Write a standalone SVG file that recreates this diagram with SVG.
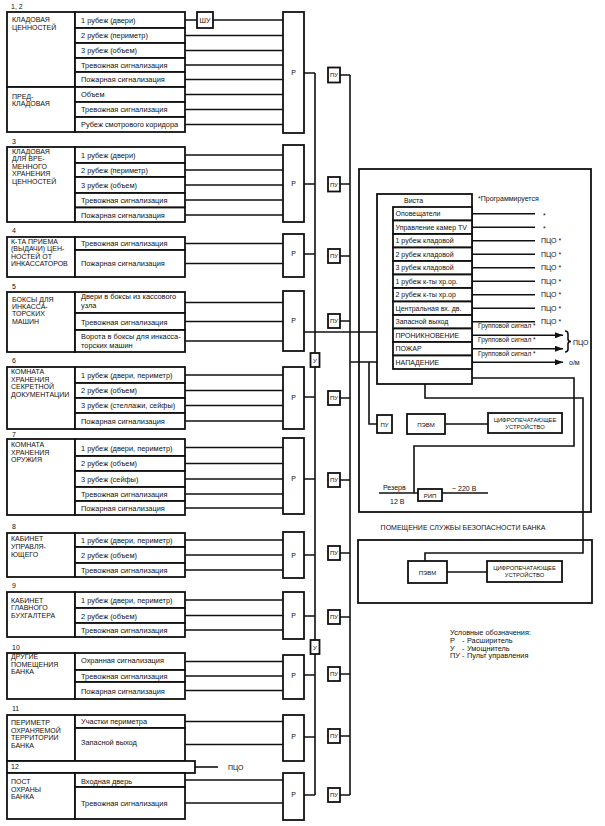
<svg xmlns="http://www.w3.org/2000/svg" width="605" height="826" viewBox="0 0 605 826">
<defs>
<marker id="ah" viewBox="0 0 8 6" refX="8" refY="3" markerWidth="8" markerHeight="6" markerUnits="userSpaceOnUse" orient="auto"><path d="M0,0 L8,3 L0,6 Z" fill="#111"/></marker>
</defs>
<style>
.b{fill:#fff;stroke:#111;stroke-width:1.8}
.l{fill:none;stroke:#111;stroke-width:1.6}
text{font-family:"Liberation Sans",Arial,sans-serif;fill:#111}
.r{font-size:7.4px}
.n{font-size:7px}
.v{font-size:7px}
.c{text-anchor:middle}
.s{font-size:6px}
.g{font-size:6.5px}
.x{font-size:5.8px}
</style>
<rect width="605" height="826" fill="#fff"/>

<g id="sec-1-2">
<text class="n" x="11" y="8.5">1, 2</text>
<rect class="b" x="7" y="12" width="68" height="75"/>
<rect class="b" x="7" y="87" width="68" height="45"/>
<rect class="b" x="75" y="12" width="110" height="16"/>
<rect class="b" x="75" y="28" width="110" height="15"/>
<rect class="b" x="75" y="43" width="110" height="15"/>
<rect class="b" x="75" y="58" width="110" height="14"/>
<rect class="b" x="75" y="72" width="110" height="15"/>
<rect class="b" x="75" y="87" width="110" height="15"/>
<rect class="b" x="75" y="102" width="110" height="15"/>
<rect class="b" x="75" y="117" width="110" height="15"/>
<text class="n" x="12" y="22">КЛАДОВАЯ</text>
<text class="n" x="12" y="29.5">ЦЕННОСТЕЙ</text>
<text class="n" x="12" y="98.5">ПРЕД-</text>
<text class="n" x="12" y="105.5">КЛАДОВАЯ</text>
<text class="r" x="81" y="22.6">1 рубеж (двери)</text>
<text class="r" x="81" y="38">2 рубеж (периметр)</text>
<text class="r" x="81" y="53">3 рубеж (объем)</text>
<text class="r" x="81" y="67.5">Тревожная сигнализация</text>
<text class="r" x="81" y="82">Пожарная сигнализация</text>
<text class="r" x="81" y="97">Объем</text>
<text class="r" x="81" y="112">Тревожная сигнализация</text>
<text class="r" x="81" y="127">Рубеж смотрового коридора</text>
</g>

<g id="sec-3">
<text class="n" x="12" y="143.5">3</text>
<rect class="b" x="7" y="147" width="68" height="75"/>
<rect class="b" x="75" y="147" width="110" height="16"/>
<rect class="b" x="75" y="163" width="110" height="14"/>
<rect class="b" x="75" y="177" width="110" height="16"/>
<rect class="b" x="75" y="193" width="110" height="14.5"/>
<rect class="b" x="75" y="207.5" width="110" height="14.5"/>
<text class="n" x="12" y="153.5">КЛАДОВАЯ</text>
<text class="n" x="12" y="161">ДЛЯ ВРЕ-</text>
<text class="n" x="12" y="168.5">МЕННОГО</text>
<text class="n" x="12" y="176">ХРАНЕНИЯ</text>
<text class="n" x="12" y="183.5">ЦЕННОСТЕЙ</text>
<text class="r" x="81" y="157.5">1 рубеж (двери)</text>
<text class="r" x="81" y="172.5">2 рубеж (периметр)</text>
<text class="r" x="81" y="187.5">3 рубеж (объем)</text>
<text class="r" x="81" y="202.5">Тревожная сигнализация</text>
<text class="r" x="81" y="217.5">Пожарная сигнализация</text>
</g>

<g id="sec-4">
<text class="n" x="12" y="232.5">4</text>
<rect class="b" x="7" y="237" width="68" height="40"/>
<rect class="b" x="75" y="237" width="110" height="13"/>
<rect class="b" x="75" y="250" width="110" height="27"/>
<text class="n" x="11" y="243.5">К-ТА ПРИЕМА</text>
<text class="n" x="11" y="251">(ВЫДАЧИ) ЦЕН-</text>
<text class="n" x="11" y="258.5">НОСТЕЙ ОТ</text>
<text class="n" x="11" y="266">ИНКАССАТОРОВ</text>
<text class="r" x="81" y="246">Тревожная сигнализация</text>
<text class="r" x="81" y="266">Пожарная сигнализация</text>
</g>

<g id="sec-5">
<text class="n" x="12" y="288.5">5</text>
<rect class="b" x="7" y="292" width="68" height="60"/>
<rect class="b" x="75" y="292" width="110" height="21"/>
<rect class="b" x="75" y="313" width="110" height="17"/>
<rect class="b" x="75" y="330" width="110" height="22"/>
<text class="n" x="12" y="302">БОКСЫ ДЛЯ</text>
<text class="n" x="12" y="309">ИНКАССА-</text>
<text class="n" x="12" y="316">ТОРСКИХ</text>
<text class="n" x="12" y="323.5">МАШИН</text>
<text class="r" x="81" y="299">Двери в боксы из кассового</text>
<text class="r" x="81" y="307.5">узла</text>
<text class="r" x="81" y="324.5">Тревожная сигнализация</text>
<text class="r" x="81" y="338.5">Ворота в боксы для инкасса-</text>
<text class="r" x="81" y="347.5">торских машин</text>
</g>

<g id="sec-6">
<text class="n" x="12" y="362.5">6</text>
<rect class="b" x="7" y="367" width="68" height="62"/>
<rect class="b" x="75" y="367" width="110" height="16"/>
<rect class="b" x="75" y="383" width="110" height="15"/>
<rect class="b" x="75" y="398" width="110" height="15"/>
<rect class="b" x="75" y="413" width="110" height="16"/>
<text class="n" x="11" y="374">КОМНАТА</text>
<text class="n" x="11" y="381.5">ХРАНЕНИЯ</text>
<text class="n" x="11" y="389">СЕКРЕТНОЙ</text>
<text class="n" x="11" y="396.5">ДОКУМЕНТАЦИИ</text>
<text class="r" x="81" y="377.5">1 рубеж (двери, периметр)</text>
<text class="r" x="81" y="393">2 рубеж (объем)</text>
<text class="r" x="81" y="408">3 рубеж (стеллажи, сейфы)</text>
<text class="r" x="81" y="423.5">Пожарная сигнализация</text>
</g>

<g id="sec-7">
<text class="n" x="12" y="437">7</text>
<rect class="b" x="7" y="439" width="68" height="76"/>
<rect class="b" x="75" y="439" width="110" height="17"/>
<rect class="b" x="75" y="456" width="110" height="15"/>
<rect class="b" x="75" y="471" width="110" height="16"/>
<rect class="b" x="75" y="487" width="110" height="14"/>
<rect class="b" x="75" y="501" width="110" height="14"/>
<text class="n" x="11" y="447">КОМНАТА</text>
<text class="n" x="11" y="454.5">ХРАНЕНИЯ</text>
<text class="n" x="11" y="461.5">ОРУЖИЯ</text>
<text class="r" x="81" y="450.5">1 рубеж (двери, периметр)</text>
<text class="r" x="81" y="466">2 рубеж (объем)</text>
<text class="r" x="81" y="481.5">3 рубеж (сейфы)</text>
<text class="r" x="81" y="496.5">Тревожная сигнализация</text>
<text class="r" x="81" y="510.5">Пожарная сигнализация</text>
</g>

<g id="sec-8">
<text class="n" x="12" y="529">8</text>
<rect class="b" x="7" y="533" width="68" height="44"/>
<rect class="b" x="75" y="533" width="110" height="14"/>
<rect class="b" x="75" y="547" width="110" height="16"/>
<rect class="b" x="75" y="563" width="110" height="14"/>
<text class="n" x="11" y="541">КАБИНЕТ</text>
<text class="n" x="11" y="549">УПРАВЛЯ-</text>
<text class="n" x="11" y="556.5">ЮЩЕГО</text>
<text class="r" x="81" y="542.5">1 рубеж (двери, периметр)</text>
<text class="r" x="81" y="557.5">2 рубеж (объем)</text>
<text class="r" x="81" y="572.5">Тревожная сигнализация</text>
</g>

<g id="sec-9">
<text class="n" x="12" y="587.5">9</text>
<rect class="b" x="7" y="592" width="68" height="45"/>
<rect class="b" x="75" y="592" width="110" height="16"/>
<rect class="b" x="75" y="608" width="110" height="15"/>
<rect class="b" x="75" y="623" width="110" height="14"/>
<text class="n" x="11" y="602.5">КАБИНЕТ</text>
<text class="n" x="11" y="610">ГЛАВНОГО</text>
<text class="n" x="11" y="617.5">БУХГАЛТЕРА</text>
<text class="r" x="81" y="603">1 рубеж (двери, периметр)</text>
<text class="r" x="81" y="618.5">2 рубеж (объем)</text>
<text class="r" x="81" y="632.5">Тревожная сигнализация</text>
</g>

<g id="sec-10">
<text class="n" x="12" y="650">10</text>
<rect class="b" x="7" y="653" width="68" height="46"/>
<rect class="b" x="75" y="653" width="110" height="17"/>
<rect class="b" x="75" y="670" width="110" height="12"/>
<rect class="b" x="75" y="682" width="110" height="17"/>
<text class="n" x="11" y="659">ДРУГИЕ</text>
<text class="n" x="11" y="666.5">ПОМЕЩЕНИЯ</text>
<text class="n" x="11" y="674">БАНКА</text>
<text class="r" x="81" y="662.5">Охранная сигнализация</text>
<text class="r" x="81" y="678.5">Тревожная сигнализация</text>
<text class="r" x="81" y="693.5">Пожарная сигнализация</text>
</g>

<g id="sec-11">
<text class="n" x="12" y="711">11</text>
<rect class="b" x="7" y="715" width="68" height="46"/>
<rect class="b" x="75" y="715" width="110" height="13"/>
<rect class="b" x="75" y="728" width="110" height="33"/>
<text class="n" x="11" y="725">ПЕРИМЕТР</text>
<text class="n" x="11" y="732.5">ОХРАНЯЕМОЙ</text>
<text class="n" x="11" y="740">ТЕРРИТОРИИ</text>
<text class="n" x="11" y="747.5">БАНКА</text>
<text class="r" x="81" y="724">Участки периметра</text>
<text class="r" x="81" y="744.5">Запасной выход</text>
</g>

<g id="sec-12-bar">
<rect class="b" x="7" y="761" width="188" height="12"/>
<text class="n" x="11" y="769">12</text>
<text class="n" x="228" y="770">ПЦО</text>
</g>

<g id="sec-12">
<rect class="b" x="7" y="773" width="68" height="46"/>
<rect class="b" x="75" y="773" width="110" height="14"/>
<rect class="b" x="75" y="787" width="110" height="32"/>
<text class="n" x="11" y="784">ПОСТ</text>
<text class="n" x="11" y="791.5">ОХРАНЫ</text>
<text class="n" x="11" y="799">БАНКА</text>
<text class="r" x="81" y="783.5">Входная дверь</text>
<text class="r" x="81" y="806">Тревожная сигнализация</text>
</g>

<g id="connectors" class="l">
<path class="l" d="M185,20H197M213,20H283M185,35.5H283M185,50.5H283M185,65H283M185,79.5H283M185,94.5H283M185,109.5H283M185,124.5H283"/>
<path class="l" d="M185,155H283M185,170H283M185,185H283M185,200H283M185,215H283"/>
<path class="l" d="M185,243.5H283M185,263.5H283"/>
<path class="l" d="M185,302.5H283M185,321.5H283M185,341H283"/>
<path class="l" d="M185,375H283M185,390.5H283M185,405.5H283M185,421H283"/>
<path class="l" d="M185,447.5H283M185,463.5H283M185,479H283M185,494H283M185,508H283"/>
<path class="l" d="M185,540H283M185,555H283M185,570H283"/>
<path class="l" d="M185,600H283M185,615.5H283M185,630H283"/>
<path class="l" d="M185,661.5H283M185,676H283M185,690.5H283"/>
<path class="l" d="M185,721.5H283M185,744.5H283"/>
<path class="l" d="M185,780H283M185,803H283"/>
<path class="l" d="M195,767H218"/>
<path class="l" d="M304,73H315M304,184H315M304,254H315M304,397H315M304,479H315M304,555H315M304,616H315M304,675H315M304,737H315M304,795H315"/>
<path class="l" d="M315,73V353M315,367V640M315,654V795"/>
<path class="l" d="M304,332H377"/>
<path class="l" d="M340,75H350M340,184H350M340,256H350M340,321H350M340,398H350M340,480H350M340,553H350M340,617H350M340,674H350M340,736H350M340,795H350"/>
<path class="l" d="M350,75V795"/>
<path class="l" d="M350,362H377M369,362V424H377"/>
<path class="l" d="M425,384V398H583V553H425V561"/>
<path class="l" d="M472,378H574V446H414V493"/>
<path class="l" d="M379,493H418M442,493H488"/>
<path class="l" d="M445,424H488M447,572H487"/>
<path class="l" d="M472,213.75H535M472,227.25H535M472,240.75H535M472,254.25H535M472,267.75H535M472,281.25H535M472,294.75H535M472,308.25H535M472,321.75H535"/>
<path class="l" d="M472,335.25H563" marker-end="url(#ah)"/>
<path class="l" d="M472,348.75H563" marker-end="url(#ah)"/>
<path class="l" d="M472,362.25H563" marker-end="url(#ah)"/>
<path class="l" d="M565,331q3,0 3,3v5q0,2.5 3,2.5q-3,0 -3,2.5v5q0,3 -3,3"/>
</g>

<g id="shu"><rect class="b" x="197" y="12" width="16" height="16"/><text class="n c" x="205" y="22.5">ШУ</text></g>

<g id="r-1-2"><rect class="b" x="283" y="12" width="21" height="121"/><text class="n c" x="293.5" y="75">Р</text></g>
<g id="r-3"><rect class="b" x="283" y="145" width="21" height="77"/><text class="n c" x="293.5" y="186">Р</text></g>
<g id="r-4"><rect class="b" x="283" y="234" width="21" height="43"/><text class="n c" x="293.5" y="256">Р</text></g>
<g id="r-5"><rect class="b" x="283" y="291" width="21" height="60"/><text class="n c" x="293.5" y="323">Р</text></g>
<g id="r-6"><rect class="b" x="283" y="367" width="21" height="62"/><text class="n c" x="293.5" y="400">Р</text></g>
<g id="r-7"><rect class="b" x="283" y="438" width="21" height="76"/><text class="n c" x="293.5" y="481">Р</text></g>
<g id="r-8"><rect class="b" x="283" y="532" width="21" height="46"/><text class="n c" x="293.5" y="558">Р</text></g>
<g id="r-9"><rect class="b" x="283" y="592" width="21" height="47"/><text class="n c" x="293.5" y="618">Р</text></g>
<g id="r-10"><rect class="b" x="283" y="655" width="21" height="44"/><text class="n c" x="293.5" y="678">Р</text></g>
<g id="r-11"><rect class="b" x="283" y="715" width="21" height="46"/><text class="n c" x="293.5" y="739">Р</text></g>
<g id="r-12"><rect class="b" x="283" y="773" width="21" height="47"/><text class="n c" x="293.5" y="797">Р</text></g>

<g id="u-1"><rect class="b" x="310.5" y="353" width="9" height="14"/><text class="s c" x="315" y="362.5">У</text></g>
<g id="u-2"><rect class="b" x="310.5" y="640" width="9" height="14"/><text class="s c" x="315" y="649.5">У</text></g>

<g id="pu-1-2"><rect class="b" x="328" y="67.5" width="12" height="15"/><text class="s c" x="334" y="77">ПУ</text></g>
<g id="pu-3"><rect class="b" x="328" y="177" width="12" height="14.5"/><text class="s c" x="334" y="186.5">ПУ</text></g>
<g id="pu-4"><rect class="b" x="328" y="249" width="12" height="14"/><text class="s c" x="334" y="258">ПУ</text></g>
<g id="pu-5"><rect class="b" x="328" y="314" width="12" height="14"/><text class="s c" x="334" y="323">ПУ</text></g>
<g id="pu-6"><rect class="b" x="328" y="391" width="12" height="14"/><text class="s c" x="334" y="400">ПУ</text></g>
<g id="pu-7"><rect class="b" x="328" y="473" width="12" height="14"/><text class="s c" x="334" y="482">ПУ</text></g>
<g id="pu-8"><rect class="b" x="328" y="546" width="12" height="14"/><text class="s c" x="334" y="555">ПУ</text></g>
<g id="pu-9"><rect class="b" x="328" y="610" width="12" height="14"/><text class="s c" x="334" y="619">ПУ</text></g>
<g id="pu-10"><rect class="b" x="328" y="667" width="12" height="14"/><text class="s c" x="334" y="676">ПУ</text></g>
<g id="pu-11"><rect class="b" x="328" y="729" width="12" height="14"/><text class="s c" x="334" y="738">ПУ</text></g>
<g id="pu-12"><rect class="b" x="328" y="788" width="12" height="14"/><text class="s c" x="334" y="797">ПУ</text></g>

<g id="security-room">
<rect x="359" y="169" width="232" height="343" fill="none" stroke="#111" stroke-width="1.8"/>
<text class="n c" x="463" y="529.5">ПОМЕЩЕНИЕ СЛУЖБЫ БЕЗОПАСНОСТИ БАНКА</text>
</g>

<g id="vista">
<rect class="b" x="377" y="194" width="95" height="190"/>
<text class="v" x="404" y="203">Виста</text>
<text class="v" x="478" y="201">*Программируется</text>
<rect class="b" x="393" y="207" width="79" height="13.5"/>
<rect class="b" x="393" y="220.5" width="79" height="13.5"/>
<rect class="b" x="393" y="234" width="79" height="13.5"/>
<rect class="b" x="393" y="247.5" width="79" height="13.5"/>
<rect class="b" x="393" y="261" width="79" height="13.5"/>
<rect class="b" x="393" y="274.5" width="79" height="13.5"/>
<rect class="b" x="393" y="288" width="79" height="13.5"/>
<rect class="b" x="393" y="301.5" width="79" height="13.5"/>
<rect class="b" x="393" y="315" width="79" height="13.5"/>
<rect class="b" x="393" y="328.5" width="79" height="13.5"/>
<rect class="b" x="393" y="342" width="79" height="13.5"/>
<rect class="b" x="393" y="355.5" width="79" height="13.5"/>
<text class="v" x="395.5" y="216.3">Оповещатели</text>
<text class="v" x="395.5" y="229.8">Управление камер TV</text>
<text class="v" x="395.5" y="243.3">1 рубеж кладовой</text>
<text class="v" x="395.5" y="256.8">2 рубеж кладовой</text>
<text class="v" x="395.5" y="270.3">3 рубеж кладовой</text>
<text class="v" x="395.5" y="283.8">1 рубеж к-ты хр.ор.</text>
<text class="v" x="395.5" y="297.3">2 рубеж к-ты хр.ор</text>
<text class="v" x="395.5" y="310.8">Центральная вх. дв.</text>
<text class="v" x="395.5" y="324.3">Запасной выход</text>
<text class="v" x="395.5" y="337.8">ПРОНИКНОВЕНИЕ</text>
<text class="v" x="395.5" y="351.3">ПОЖАР</text>
<text class="v" x="395.5" y="364.8">НАПАДЕНИЕ</text>
<text class="v" x="543" y="217.5">*</text>
<text class="v" x="543" y="231">*</text>
<text class="v" x="541" y="243.3">ПЦО *</text>
<text class="v" x="541" y="256.8">ПЦО *</text>
<text class="v" x="541" y="270.3">ПЦО *</text>
<text class="v" x="541" y="283.8">ПЦО *</text>
<text class="v" x="541" y="297.3">ПЦО *</text>
<text class="v" x="541" y="310.8">ПЦО *</text>
<text class="v" x="541" y="324.3">ПЦО *</text>
<text class="g" x="478" y="328">Групповой сигнал *</text>
<text class="g" x="478" y="341.5">Групповой сигнал *</text>
<text class="g" x="478" y="356">Групповой сигнал *</text>
<text class="v" x="573" y="345">ПЦО</text>
<text class="v" x="569" y="365">о/м</text>
</g>

<g id="pu-inner"><rect class="b" x="377" y="415" width="15" height="18"/><text class="s c" x="384.5" y="426.5">ПУ</text></g>
<g id="pevm-1"><rect class="b" x="407" y="414" width="38" height="20"/><text class="s c" x="426" y="426.5">ПЭВМ</text></g>
<g id="printer-1"><rect class="b" x="488" y="413" width="74" height="20"/><text class="x c" x="525" y="421.5">ЦИФРОПЕЧАТАЮЩЕЕ</text><text class="x c" x="525" y="428.5">УСТРОЙСТВО</text></g>
<g id="rip"><rect class="b" x="418" y="489" width="24" height="12"/><text class="s c" x="430" y="497.5">РИП</text></g>
<g id="power-labels">
<text class="n" x="383" y="489.5">Резерв</text>
<text class="n" x="390" y="503.5">12 В</text>
<text class="n" x="452" y="490.5">~ 220 В</text>
</g>

<g id="second-room">
<rect x="358" y="540" width="234" height="63" fill="none" stroke="#111" stroke-width="1.8"/>
</g>
<g id="pevm-2"><rect class="b" x="408" y="561" width="39" height="22"/><text class="s c" x="427.5" y="574.5">ПЭВМ</text></g>
<g id="printer-2"><rect class="b" x="487" y="561" width="75" height="21"/><text class="x c" x="524.5" y="569.5">ЦИФРОПЕЧАТАЮЩЕЕ</text><text class="x c" x="524.5" y="576.5">УСТРОЙСТВО</text></g>

<g id="legend">
<text class="n" x="450" y="635" style="font-size:7.3px">Условные обозначения:</text>
<text class="n" x="450" y="643" style="font-size:7.3px">Р<tspan x="462">-</tspan><tspan x="467">Расширитель</tspan></text>
<text class="n" x="450" y="650.5" style="font-size:7.3px">У<tspan x="462">-</tspan><tspan x="467">Умощнитель</tspan></text>
<text class="n" x="450" y="658" style="font-size:7.3px">ПУ<tspan x="462">-</tspan><tspan x="467">Пульт управления</tspan></text>
</g>
</svg>
